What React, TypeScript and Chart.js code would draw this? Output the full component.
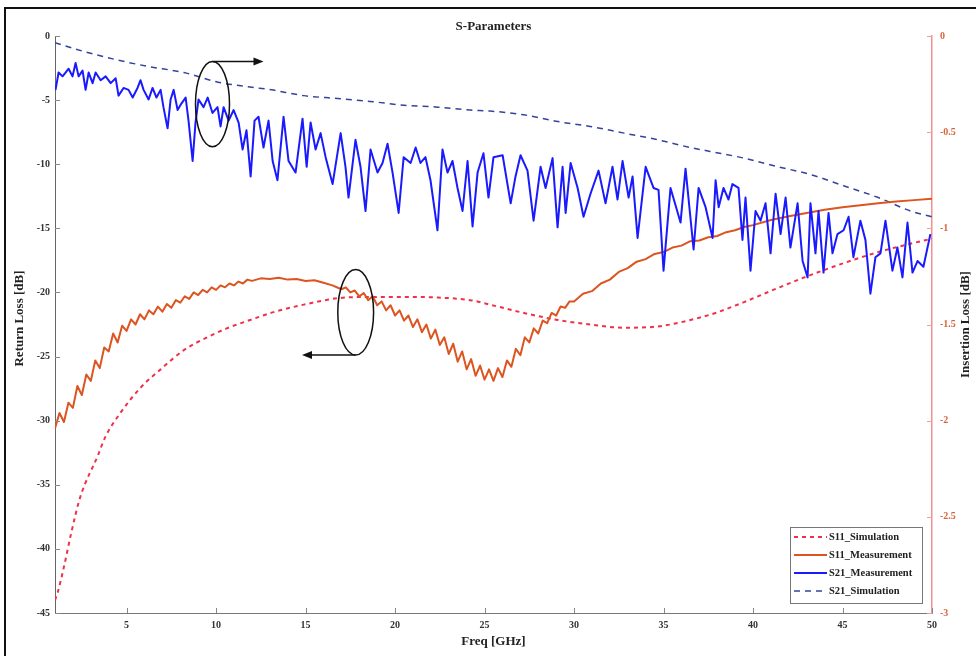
import React, { useEffect, useRef } from 'react';
import { Chart, registerables } from 'chart.js';

Chart.register(...registerables);

const TITLE = 'S-Parameters';
const X_LABEL = 'Freq [GHz]';
const Y_LEFT_LABEL = 'Return Loss [dB]';
const Y_RIGHT_LABEL = 'Insertion Loss [dB]';

const xTickValues = [5, 10, 15, 20, 25, 30, 35, 40, 45, 50];
const leftTickValues = [0, -5, -10, -15, -20, -25, -30, -35, -40, -45];
const leftTickLabels = ['0', '-5', '-10', '-15', '-20', '-25', '-30', '-35', '-40', '-45'];
const rightTickValues = [0, -0.5, -1, -1.5, -2, -2.5, -3];
const rightTickLabels = ['0', '-0.5', '-1', '-1.5', '-2', '-2.5', '-3'];

const seriesNames = ['S11_Simulation', 'S11_Measurement', 'S21_Measurement', 'S21_Simulation'];

// [freq GHz, dB] — left axis (Return Loss)
const s11Simulation = [
  [1, -44.0], [1.15, -43.4], [1.5, -41.4], [1.9, -38.8], [2.4, -36.0], [3.4, -32.7], [3.8, -31.3],
  [4.6, -29.5], [5.8, -27.4], [6.9, -26.0], [8.2, -24.5], [9.5, -23.5], [10.6, -22.8], [11.9, -22.15],
  [13.3, -21.5], [14.9, -20.95], [16.8, -20.45], [18.6, -20.35], [20.5, -20.35], [22.4, -20.4],
  [24.2, -20.6], [25.3, -20.95], [27.2, -21.6], [29.1, -22.15], [30.9, -22.5], [32.8, -22.75],
  [34.7, -22.65], [36.5, -22.15], [37.9, -21.6], [39.5, -20.75], [41.4, -19.65], [43.2, -18.65],
  [45.1, -17.7], [47.0, -16.85], [48.8, -16.2], [50, -15.8],
];

// [freq GHz, dB] — left axis (Return Loss)
const s11Measurement = [
  [1.0, -30.6], [1.25, -29.4], [1.5, -30.1], [1.75, -28.6], [2.0, -29.0], [2.25, -27.3], [2.5, -28.0],
  [2.75, -26.4], [3.0, -26.9], [3.25, -25.3], [3.5, -25.9], [3.75, -24.3], [4.0, -24.6], [4.25, -23.2],
  [4.5, -23.9], [4.75, -22.6], [5.0, -23.0], [5.25, -22.1], [5.5, -22.5], [5.75, -21.7], [6.0, -22.1],
  [6.25, -21.4], [6.5, -21.7], [6.75, -21.1], [7.0, -21.5], [7.25, -20.9], [7.5, -21.2], [7.75, -20.6],
  [8.0, -20.8], [8.25, -20.3], [8.5, -20.5], [8.75, -20.0], [9.0, -20.2], [9.25, -19.8], [9.5, -20.0],
  [9.75, -19.6], [10.0, -19.8], [10.25, -19.45], [10.5, -19.6], [10.75, -19.3], [11.0, -19.45],
  [11.25, -19.15], [11.5, -19.3], [11.75, -19.0], [12.0, -19.1], [12.5, -18.9], [13.0, -18.95],
  [13.5, -18.85], [14.0, -19.0], [14.5, -18.95], [15.0, -19.1], [15.5, -19.05], [16.0, -19.25],
  [16.5, -19.45], [17.0, -19.75], [17.25, -19.6], [17.5, -20.0], [17.75, -19.85], [18.0, -20.3],
  [18.25, -20.05], [18.5, -20.6], [18.75, -20.3], [19.0, -21.0], [19.25, -20.7], [19.5, -21.4],
  [19.75, -21.0], [20.0, -21.8], [20.25, -21.4], [20.5, -22.2], [20.75, -21.8], [21.0, -22.7],
  [21.25, -22.1], [21.5, -23.1], [21.75, -22.5], [22.0, -23.6], [22.25, -22.9], [22.5, -24.1],
  [22.75, -23.5], [23.0, -24.8], [23.25, -24.0], [23.5, -25.4], [23.75, -24.6], [24.0, -26.0],
  [24.25, -25.2], [24.5, -26.5], [24.75, -25.7], [25.0, -26.8], [25.25, -26.0], [25.5, -26.9],
  [25.75, -25.9], [26.0, -26.6], [26.25, -25.3], [26.5, -25.8], [26.75, -24.4], [27.0, -24.9],
  [27.25, -23.5], [27.5, -23.9], [27.75, -22.8], [28.0, -23.2], [28.25, -22.2], [28.5, -22.4],
  [28.75, -21.6], [29.0, -21.8], [29.25, -21.1], [29.5, -21.2], [29.75, -20.7], [30.0, -20.7],
  [30.5, -20.1], [31.0, -19.9], [31.5, -19.3], [32.0, -19.0], [32.5, -18.4], [33.0, -18.1],
  [33.5, -17.6], [34.0, -17.4], [34.5, -17.0], [35.0, -16.85], [35.5, -16.5], [36.0, -16.35],
  [36.5, -16.0], [37.0, -15.95], [37.5, -15.7], [38.0, -15.6], [38.5, -15.3], [39.0, -15.15],
  [39.5, -14.9], [40.0, -14.75], [41.0, -14.35], [42.0, -14.05], [43.0, -13.8], [44.0, -13.55],
  [45.0, -13.35], [46.0, -13.2], [47.0, -13.05], [48.0, -12.9], [49.0, -12.8], [50.0, -12.7],
];

// [freq GHz, dB] — right axis (Insertion Loss)
const s21Measurement = [
  [1.03, -0.28], [1.2, -0.19], [1.42, -0.21], [1.59, -0.19], [1.76, -0.17], [1.98, -0.21], [2.15, -0.14],
  [2.32, -0.21], [2.54, -0.18], [2.71, -0.28], [2.88, -0.19], [3.1, -0.245], [3.27, -0.19], [3.55, -0.23],
  [3.83, -0.21], [4.11, -0.245], [4.39, -0.22], [4.55, -0.31], [4.83, -0.27], [5.11, -0.28], [5.34, -0.32],
  [5.61, -0.27], [5.78, -0.23], [5.95, -0.28], [6.23, -0.33], [6.45, -0.27], [6.67, -0.32], [6.9, -0.28],
  [7.06, -0.37], [7.29, -0.48], [7.46, -0.33], [7.63, -0.28], [7.85, -0.385], [8.07, -0.35], [8.3, -0.32],
  [8.46, -0.44], [8.69, -0.65], [8.85, -0.45], [9.02, -0.33], [9.3, -0.37], [9.53, -0.32], [9.8, -0.4],
  [10.08, -0.37], [10.25, -0.47], [10.42, -0.37], [10.7, -0.44], [10.98, -0.385], [11.26, -0.45],
  [11.48, -0.59], [11.7, -0.49], [11.93, -0.73], [12.15, -0.44], [12.37, -0.42], [12.65, -0.58],
  [12.93, -0.44], [13.16, -0.65], [13.43, -0.75], [13.77, -0.42], [14.05, -0.65], [14.44, -0.71],
  [14.83, -0.43], [15.06, -0.68], [15.28, -0.45], [15.56, -0.59], [15.84, -0.505], [16.12, -0.63],
  [16.51, -0.77], [16.96, -0.505], [17.23, -0.68], [17.4, -0.84], [17.79, -0.54], [18.07, -0.68],
  [18.35, -0.91], [18.63, -0.59], [19.02, -0.71], [19.3, -0.66], [19.58, -0.56], [19.86, -0.71],
  [20.2, -0.92], [20.48, -0.63], [20.87, -0.66], [21.15, -0.58], [21.42, -0.66], [21.7, -0.63],
  [21.98, -0.75], [22.37, -1.01], [22.65, -0.59], [22.93, -0.71], [23.21, -0.65], [23.49, -0.79],
  [23.77, -0.91], [24.05, -0.65], [24.33, -0.99], [24.61, -0.71], [24.94, -0.61], [25.22, -0.84],
  [25.5, -0.63], [26.01, -0.62], [26.46, -0.87], [26.73, -0.73], [27.01, -0.62], [27.4, -0.7],
  [27.74, -0.96], [28.13, -0.68], [28.41, -0.79], [28.8, -0.635], [29.08, -0.995], [29.36, -0.68],
  [29.53, -0.92], [29.81, -0.66], [30.2, -0.79], [30.53, -0.94], [30.92, -0.82], [31.37, -0.7],
  [31.76, -0.87], [32.15, -0.68], [32.43, -0.85], [32.71, -0.65], [33.05, -0.84], [33.27, -0.73],
  [33.55, -1.05], [34.0, -0.68], [34.44, -0.79], [34.72, -0.8], [35.0, -1.22], [35.39, -0.79],
  [35.95, -0.97], [36.23, -0.69], [36.68, -1.11], [36.96, -0.79], [37.35, -0.89], [37.74, -1.05],
  [37.91, -0.75], [38.08, -0.89], [38.35, -0.79], [38.63, -0.85], [38.85, -0.77], [39.19, -0.79],
  [39.41, -1.06], [39.58, -0.84], [39.86, -1.22], [40.14, -0.91], [40.42, -0.96], [40.7, -0.87],
  [40.98, -1.13], [41.26, -0.82], [41.54, -1.03], [41.82, -0.84], [42.09, -1.1], [42.49, -0.87],
  [42.77, -1.17], [43.05, -1.255], [43.21, -0.87], [43.49, -1.13], [43.66, -0.91], [43.94, -1.23],
  [44.22, -0.92], [44.44, -1.13], [44.72, -1.03], [45.06, -1.01], [45.34, -0.94], [45.61, -1.15],
  [46.0, -0.96], [46.28, -1.06], [46.56, -1.34], [46.84, -1.15], [47.12, -1.13], [47.4, -0.96],
  [47.79, -1.22], [48.07, -1.1], [48.35, -1.255], [48.63, -0.97], [48.91, -1.23], [49.19, -1.17],
  [49.52, -1.2], [49.91, -1.03],
];

// [freq GHz, dB] — right axis (Insertion Loss)
const s21Simulation = [
  [1, -0.035], [2.6, -0.08], [4.5, -0.125], [6.3, -0.16], [8.2, -0.19], [10.1, -0.24], [11.9, -0.265],
  [13.1, -0.28], [14.9, -0.31], [16.8, -0.325], [18.6, -0.34], [20.5, -0.36], [22.4, -0.37],
  [24.2, -0.385], [25.3, -0.39], [27.2, -0.41], [29.1, -0.445], [30.9, -0.47], [32.8, -0.505],
  [34.7, -0.54], [36.5, -0.58], [37.6, -0.6], [39.5, -0.635], [41.4, -0.68], [43.2, -0.72],
  [45.1, -0.78], [47.0, -0.84], [48.8, -0.91], [50, -0.94],
];

// callout ellipses with arrows (center/radii in data units of the given axis)
const callouts = [
  { axis: 'y1', cx: 9.8, cy: -0.354, rx: 0.95, ry: 0.222, side: 'top', arrowTo: 12.65 },
  { axis: 'y', cx: 17.8, cy: -21.55, rx: 1.0, ry: 3.33, side: 'bottom', arrowTo: 14.8 },
];

const FONT = "'Liberation Serif', 'Times New Roman', serif";

const toXY = (arr: number[][]) => arr.map(([x, y]) => ({ x, y }));

const figurePlugin = {
  id: 'figureDecor',
  beforeDraw(chart: any) {
    const { ctx, width, height } = chart;
    ctx.save();
    ctx.fillStyle = '#ffffff';
    ctx.fillRect(0, 0, width, height);
    ctx.restore();
  },
  afterDatasetsDraw(chart: any) {
    const { ctx, chartArea, scales } = chart;
    const xs = scales.x;
    ctx.save();
    // inward tick marks
    ctx.lineWidth = 1;
    ctx.strokeStyle = '#888';
    xTickValues.forEach((v) => {
      const px = Math.round(xs.getPixelForValue(v)) + 0.5;
      ctx.beginPath();
      ctx.moveTo(px, chartArea.bottom);
      ctx.lineTo(px, chartArea.bottom - 5);
      ctx.stroke();
    });
    leftTickValues.forEach((v) => {
      const py = Math.round(scales.y.getPixelForValue(v)) + 0.5;
      ctx.beginPath();
      ctx.moveTo(chartArea.left, py);
      ctx.lineTo(chartArea.left + 5, py);
      ctx.stroke();
    });
    ctx.strokeStyle = '#f0a0a0';
    rightTickValues.forEach((v) => {
      const py = Math.round(scales.y1.getPixelForValue(v)) + 0.5;
      ctx.beginPath();
      ctx.moveTo(chartArea.right, py);
      ctx.lineTo(chartArea.right - 5, py);
      ctx.stroke();
    });

    // callouts
    ctx.strokeStyle = '#111';
    ctx.fillStyle = '#111';
    ctx.lineWidth = 1.5;
    callouts.forEach((c) => {
      const ys = scales[c.axis];
      const cx = xs.getPixelForValue(c.cx);
      const cy = ys.getPixelForValue(c.cy);
      const rx = Math.abs(xs.getPixelForValue(c.cx + c.rx) - cx);
      const ry = Math.abs(ys.getPixelForValue(c.cy + c.ry) - cy);
      ctx.beginPath();
      ctx.ellipse(cx, cy, rx, ry, 0, 0, Math.PI * 2);
      ctx.stroke();
      const ay = c.side === 'top' ? cy - ry : cy + ry;
      const ax = xs.getPixelForValue(c.arrowTo);
      const dir = ax > cx ? 1 : -1;
      ctx.beginPath();
      ctx.moveTo(cx, ay);
      ctx.lineTo(ax - dir * 8, ay);
      ctx.stroke();
      ctx.beginPath();
      ctx.moveTo(ax, ay);
      ctx.lineTo(ax - dir * 10, ay - 4);
      ctx.lineTo(ax - dir * 10, ay + 4);
      ctx.closePath();
      ctx.fill();
    });
    ctx.restore();
  },
  afterDraw(chart: any) {
    const { ctx, chartArea, width, height } = chart;
    ctx.save();
    // figure border
    ctx.strokeStyle = '#111';
    ctx.lineWidth = 2;
    ctx.strokeRect(5, 8, width + 20, height + 20);

    const midX = (chartArea.left + chartArea.right) / 2;
    const midY = (chartArea.top + chartArea.bottom) / 2;
    ctx.fillStyle = '#222';
    ctx.textAlign = 'center';
    ctx.textBaseline = 'middle';
    ctx.font = `bold 13px ${FONT}`;
    ctx.fillText(TITLE, midX, 27);
    ctx.fillText(X_LABEL, midX, 642);
    ctx.save();
    ctx.translate(20, midY - 6);
    ctx.rotate(-Math.PI / 2);
    ctx.fillText(Y_LEFT_LABEL, 0, 0);
    ctx.restore();
    ctx.save();
    ctx.translate(966, midY);
    ctx.rotate(-Math.PI / 2);
    ctx.fillText(Y_RIGHT_LABEL, 0, 0);
    ctx.restore();

    // legend
    const bx = 790, by = 527, bw = 132, bh = 76;
    ctx.fillStyle = '#fff';
    ctx.fillRect(bx, by, bw, bh);
    ctx.strokeStyle = '#777';
    ctx.lineWidth = 1;
    ctx.strokeRect(bx + 0.5, by + 0.5, bw, bh);
    ctx.font = `bold 10.5px ${FONT}`;
    ctx.textAlign = 'left';
    chart.data.datasets.forEach((ds: any, i: number) => {
      const ry = by + 10 + i * 18;
      ctx.strokeStyle = ds.borderColor;
      ctx.lineWidth = ds.borderWidth;
      ctx.setLineDash(ds.borderDash || []);
      ctx.beginPath();
      ctx.moveTo(bx + 4, ry);
      ctx.lineTo(bx + 37, ry);
      ctx.stroke();
      ctx.setLineDash([]);
      ctx.fillStyle = '#222';
      ctx.fillText(ds.label, bx + 39, ry);
    });
    ctx.restore();
  },
};

export default function App() {
  const ref = useRef<HTMLCanvasElement>(null);
  useEffect(() => {
    const canvas = ref.current;
    if (!canvas) return;
    const tickFont = { family: FONT, size: 10, weight: 'bold' as const };
    const chart = new Chart(canvas, {
      type: 'line',
      data: {
        datasets: [
          {
            label: seriesNames[0],
            data: toXY(s11Simulation),
            yAxisID: 'y',
            borderColor: '#f0304a',
            borderWidth: 2,
            borderDash: [4, 4],
            pointRadius: 0,
            cubicInterpolationMode: 'monotone',
            order: 3,
          },
          {
            label: seriesNames[1],
            data: toXY(s11Measurement),
            yAxisID: 'y',
            borderColor: '#dc5520',
            borderWidth: 2,
            pointRadius: 0,
            tension: 0,
            order: 1,
          },
          {
            label: seriesNames[2],
            data: toXY(s21Measurement),
            yAxisID: 'y1',
            borderColor: '#1a1aff',
            borderWidth: 2,
            pointRadius: 0,
            tension: 0,
            order: 0,
          },
          {
            label: seriesNames[3],
            data: toXY(s21Simulation),
            yAxisID: 'y1',
            borderColor: '#33449a',
            borderWidth: 1.5,
            borderDash: [6, 5],
            pointRadius: 0,
            cubicInterpolationMode: 'monotone',
            order: 2,
          },
        ],
      },
      options: {
        responsive: false,
        devicePixelRatio: 1,
        animation: false,
        layout: { padding: { left: 0, right: 0, top: 36, bottom: 0 } },
        plugins: {
          legend: { display: false },
          tooltip: { enabled: false },
          title: { display: false },
        },
        elements: { line: { borderJoinStyle: 'round', borderCapStyle: 'butt' } },
        scales: {
          x: {
            type: 'linear',
            min: 1,
            max: 50,
            afterBuildTicks: (s: any) => {
              s.ticks = xTickValues.map((v) => ({ value: v }));
            },
            afterFit: (s: any) => {
              s.height = 43;
            },
            grid: { display: false, drawTicks: false },
            border: { display: true, color: '#777', width: 1 },
            ticks: {
              padding: 6,
              color: '#333',
              font: tickFont,
              maxRotation: 0,
              autoSkip: false,
              callback: (v: any) => String(v),
            },
          },
          y: {
            type: 'linear',
            position: 'left',
            min: -45,
            max: 0,
            afterBuildTicks: (s: any) => {
              s.ticks = leftTickValues.map((v) => ({ value: v }));
            },
            afterFit: (s: any) => {
              s.width = 55;
            },
            grid: { display: false, drawTicks: false },
            border: { display: true, color: '#666', width: 1 },
            ticks: {
              padding: 5,
              color: '#333',
              font: tickFont,
              autoSkip: false,
              callback: (_v: any, i: number) => leftTickLabels[i],
            },
          },
          y1: {
            type: 'linear',
            position: 'right',
            min: -3,
            max: 0,
            afterBuildTicks: (s: any) => {
              s.ticks = rightTickValues.map((v) => ({ value: v }));
            },
            afterFit: (s: any) => {
              s.width = 44;
            },
            grid: { display: false, drawTicks: false },
            border: { display: true, color: '#f19090', width: 1.5 },
            ticks: {
              padding: 8,
              color: '#d8643c',
              font: tickFont,
              autoSkip: false,
              callback: (_v: any, i: number) => rightTickLabels[i],
            },
          },
        },
      },
      plugins: [figurePlugin],
    });
    return () => chart.destroy();
  }, []);
  return (
    <div style={{ position: 'fixed', left: 0, top: 0, width: 976, height: 656, background: '#fff' }}>
      <canvas ref={ref} width={976} height={656} style={{ display: 'block', width: 976, height: 656 }} />
    </div>
  );
}
